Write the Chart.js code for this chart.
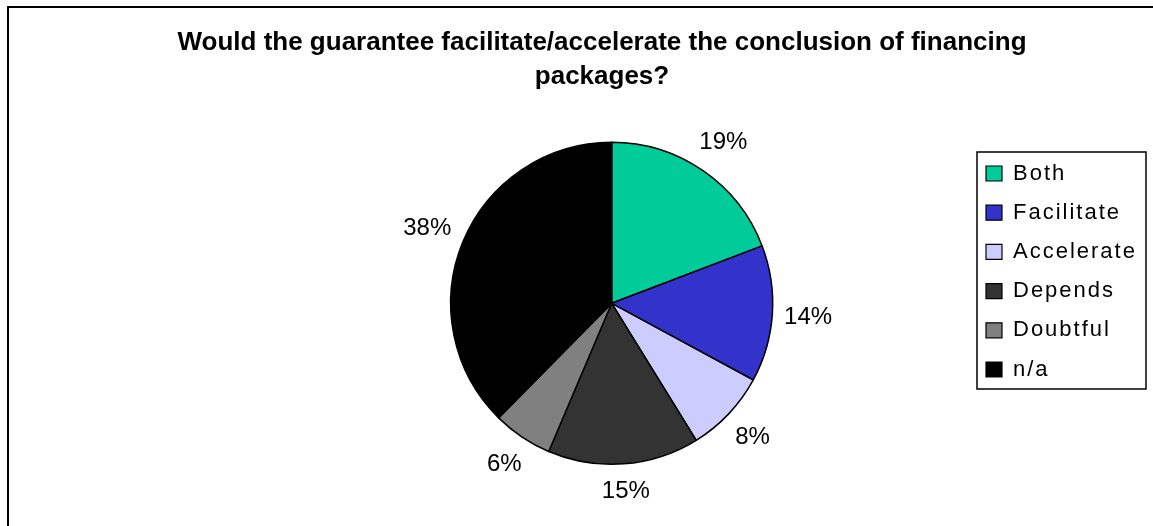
<!DOCTYPE html>
<html>
<head>
<meta charset="utf-8">
<script src="https://cdn.jsdelivr.net/npm/chart.js@4/dist/chart.umd.min.js"></script>
<style>
  html, body { margin: 0; padding: 0; background: #ffffff; overflow: hidden; }
  #c { display: block; }
</style>
</head>
<body>
<canvas id="c" width="1153" height="526"></canvas>
<script>
// ---- data ----
const titleLines = ['Would the guarantee facilitate/accelerate the conclusion of financing', 'packages?'];
const categories = ['Both', 'Facilitate', 'Accelerate', 'Depends', 'Doubtful', 'n/a'];
const shares = [19.2, 13.7, 8.3, 15.2, 6.0, 37.6];
const sliceColors = ['#00CC99', '#3333CC', '#CCCCFF', '#333333', '#808080', '#000000'];

// ---- style / layout constants ----
const FONT = '"Liberation Sans", Arial, sans-serif';
const LEGEND_LETTER_SPACING = '2px';
const LEFT_SPACER = 195.4;

// empty layout box on the left, so the pie sits right of the title centre like the original
const leftSpacer = {
  id: 'leftSpacer',
  beforeInit(chart) {
    Chart.layouts.addBox(chart, {
      position: 'left', weight: 0, fullSize: false, options: {},
      left: 0, top: 0, right: 0, bottom: 0, width: 0, height: 0,
      isHorizontal() { return false; },
      update(maxWidth, maxHeight) { this.width = LEFT_SPACER; this.height = maxHeight; },
      draw() {}
    });
  },
  afterInit(chart) {
    // the original legend text is widely spaced
    const lg = chart.legend;
    ['fit', 'draw'].forEach(fn => {
      const orig = lg[fn];
      lg[fn] = function (...args) {
        const ctx = this.ctx;
        const prev = ctx.letterSpacing;
        ctx.letterSpacing = LEGEND_LETTER_SPACING;
        try { return orig.apply(this, args); } finally { ctx.letterSpacing = prev; }
      };
    });
  }
};

// percentage labels outside the slices
const outsideLabels = {
  id: 'outsideLabels',
  afterDatasetsDraw(chart) {
    const ctx = chart.ctx;
    const meta = chart.getDatasetMeta(0);
    const total = shares.reduce((a, b) => a + b, 0);
    ctx.save();
    ctx.font = '24px ' + FONT;
    ctx.fillStyle = '#000';
    ctx.textAlign = 'center';
    ctx.textBaseline = 'middle';
    meta.data.forEach((arc, i) => {
      const p = arc.getProps(['x', 'y', 'startAngle', 'endAngle', 'outerRadius'], true);
      const mid = (p.startAngle + p.endAngle) / 2;
      const text = Math.round(shares[i] / total * 100) + '%';
      const hw = ctx.measureText(text).width / 2, hh = 13.5;
      const d = p.outerRadius + 11 + Math.abs(Math.cos(mid)) * hw + Math.abs(Math.sin(mid)) * hh;
      ctx.fillText(text, p.x + Math.cos(mid) * d, p.y + Math.sin(mid) * d + 1);
    });
    ctx.restore();
  }
};

// legend border and outer frame
const frames = {
  id: 'frames',
  afterDraw(chart) {
    const ctx = chart.ctx;
    const lg = chart.legend;
    const hb = lg.legendHitBoxes;
    ctx.save();
    if (hb && hb.length) {
      const first = hb[0], last = hb[hb.length - 1];
      const x0 = first.left - 9, y0 = first.top - 10.5;
      const x1 = lg.right + 1.2, y1 = last.top + last.height + 8.5;
      ctx.strokeStyle = '#000';
      ctx.lineWidth = 1.5;
      ctx.strokeRect(x0, y0, x1 - x0, y1 - y0);
    }
    ctx.fillStyle = '#000';
    ctx.fillRect(7, 6, chart.width - 7, 2);
    ctx.fillRect(7, 6, 2, chart.height - 6);
    ctx.restore();
  }
};

Chart.defaults.font.family = FONT;
Chart.defaults.color = '#000';

new Chart(document.getElementById('c'), {
  type: 'pie',
  data: {
    labels: categories,
    datasets: [{
      data: shares,
      backgroundColor: sliceColors,
      borderColor: '#000',
      borderWidth: 1.5
    }]
  },
  options: {
    responsive: false,
    animation: false,
    events: [],
    radius: 161,
    layout: { padding: { left: 59.2, right: 8.2, top: 17, bottom: 0 } },
    plugins: {
      tooltip: { enabled: false },
      title: {
        display: true,
        text: titleLines,
        color: '#000',
        font: { family: FONT, size: 26, weight: 'bold', lineHeight: 34 / 26 },
        padding: { top: 8.5, bottom: -12.9 }
      },
      legend: {
        display: true,
        position: 'right',
        fullSize: true,
        align: 'center',
        maxWidth: 176,
        labels: {
          color: '#000',
          font: { family: FONT, size: 22 },
          boxWidth: 16,
          boxHeight: 15,
          padding: 17.2,
          generateLabels(chart) {
            const ds = chart.data.datasets[0];
            return chart.data.labels.map((label, i) => ({
              text: label,
              fillStyle: ds.backgroundColor[i],
              strokeStyle: '#000',
              lineWidth: 1.2,
              fontColor: '#000',
              hidden: false,
              index: i
            }));
          }
        }
      }
    }
  },
  plugins: [leftSpacer, outsideLabels, frames]
});
</script>
</body>
</html>
